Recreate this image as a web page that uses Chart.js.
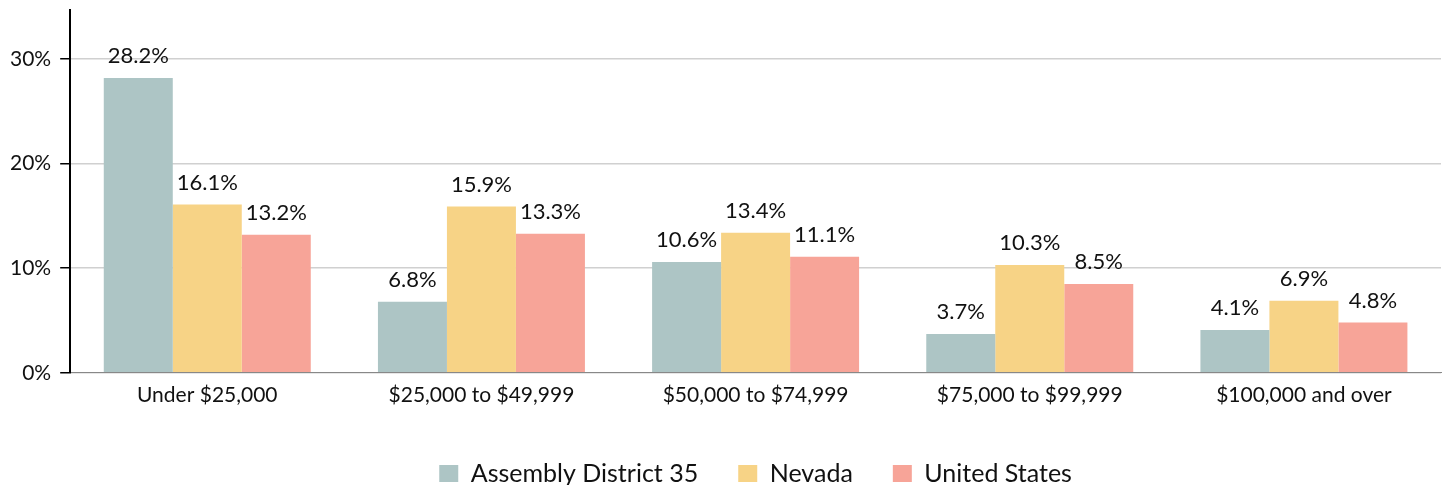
<!DOCTYPE html>
<html>
<head>
<meta charset="utf-8">
<script src="https://cdn.jsdelivr.net/npm/chart.js@4.4.1/dist/chart.umd.min.js"></script>
<style>
  html, body { margin: 0; padding: 0; background: #fff; }
  #wrap { width: 1450px; height: 489px; position: relative; }
</style>
</head>
<body>
<div id="wrap"><canvas id="c" width="1450" height="489"></canvas></div>
<script>
const categories = ["Under $25,000", "$25,000 to $49,999", "$50,000 to $74,999", "$75,000 to $99,999", "$100,000 and over"];
const seriesNames = ["Assembly District 35", "Nevada", "United States"];
const district35 = [28.2, 6.8, 10.6, 3.7, 4.1];
const nevada = [16.1, 15.9, 13.4, 10.3, 6.9];
const unitedStates = [13.2, 13.3, 11.1, 8.5, 4.8];
const yTicks = [0, 10, 20, 30];

const FONT = "Lato, 'Liberation Sans', sans-serif";

const dataLabels = {
  id: 'dataLabels',
  afterDatasetsDraw(chart) {
    const ctx = chart.ctx;
    ctx.save();
    ctx.font = "22px " + FONT;
    ctx.fillStyle = '#111';
    ctx.textAlign = 'center';
    ctx.textBaseline = 'middle';
    chart.data.datasets.forEach((ds, di) => {
      const meta = chart.getDatasetMeta(di);
      meta.data.forEach((bar, i) => {
        ctx.fillText(ds.data[i].toFixed(1) + '%', bar.x, bar.y - 22);
      });
    });
    ctx.restore();
  }
};

const legendShift = {
  id: 'legendShift',
  beforeInit(chart) {
    const fit = chart.legend.fit;
    chart.legend.fit = function () {
      fit.call(this);
      this.height -= 11;
    };
  }
};

new Chart(document.getElementById('c'), {
  type: 'bar',
  data: {
    labels: categories,
    datasets: [
      { label: seriesNames[0], data: district35, backgroundColor: '#adc5c5' },
      { label: seriesNames[1], data: nevada, backgroundColor: '#f7d386' },
      { label: seriesNames[2], data: unitedStates, backgroundColor: '#f7a498' }
    ]
  },
  options: {
    responsive: false,
    animation: false,
    devicePixelRatio: 1,
    datasets: { bar: { barPercentage: 1, categoryPercentage: 0.755 } },
    layout: { padding: { left: 1, right: 9, top: 10, bottom: 4 } },
    plugins: {
      legend: {
        position: 'bottom',
        fullSize: false,
        labels: {
          font: { size: 25, family: FONT },
          color: '#111',
          boxWidth: 19,
          boxHeight: 17,
          padding: 40
        }
      },
      tooltip: { enabled: false }
    },
    scales: {
      x: {
        grid: { display: false, drawTicks: false },
        border: { color: '#888', width: 1 },
        ticks: { font: { size: 21, family: FONT }, color: '#111', padding: 10 },
        afterFit(scale) { scale.height += 3; }
      },
      y: {
        min: 0,
        max: 34.7,
        afterBuildTicks(scale) { scale.ticks = yTicks.map(v => ({ value: v })); },
        afterFit(scale) { scale.paddingTop = 0; scale.paddingBottom = 0; },
        grid: { color: '#d0d0d0', tickColor: '#000', tickLength: 10, lineWidth: 1.5 },
        border: { color: '#000', width: 2 },
        ticks: { font: { size: 21, family: FONT }, color: '#111', padding: 9, callback: v => v + '%' }
      }
    }
  },
  plugins: [dataLabels, legendShift]
});
</script>
</body>
</html>
